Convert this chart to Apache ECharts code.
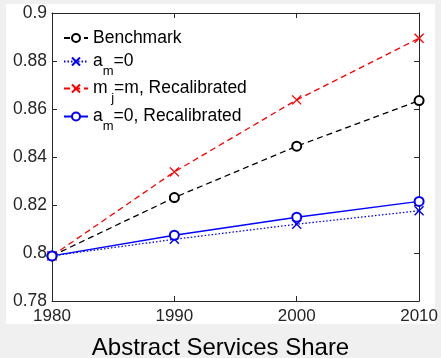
<!DOCTYPE html>
<html><head><meta charset="utf-8">
<script src="https://cdn.jsdelivr.net/npm/echarts@6/dist/echarts.min.js"></script>
<style>
html,body{margin:0;padding:0;background:#f0f0f0;}
#bg{position:absolute;left:6px;top:4px;width:429px;height:320px;background:#fff;}
#c{position:absolute;left:0;top:0;width:441px;height:358px;}
</style></head><body>
<div id="bg"></div><div id="c"></div>
<script>
// ---- data ----
const years = [1980, 1990, 2000, 2010];
const benchmark = [0.7988, 0.8231, 0.8445, 0.8635];
const amZero = [0.7988, 0.8057, 0.8120, 0.8176];
const mjRecal = [0.7988, 0.8338, 0.8638, 0.8895];
const amZeroRecal = [0.7988, 0.8074, 0.8149, 0.8215];
const seriesNames = ['Benchmark', 'a_m=0', 'm_j=m, Recalibrated', 'a_m=0, Recalibrated'];
const xTickLabels = ['1980', '1990', '2000', '2010'];
const yTickLabels = ['0.78', '0.8', '0.82', '0.84', '0.86', '0.88', '0.9'];
const xLabel = 'Abstract Services Share';

const FONT = "'Liberation Sans', Arial, Helvetica, sans-serif";
const AX = '#262626';
const X_PATH = 'path://M0,0L10,10M10,0L0,10';

const legendText = {
  'Benchmark': '{n|Benchmark}',
  'a_m=0': '{n|a}{s|m}{n|=0}',
  'm_j=m, Recalibrated': '{n|m}{s| j}{n|=m, Recalibrated}',
  'a_m=0, Recalibrated': '{n|a}{s|m}{n|=0, Recalibrated}'
};

function pair(vals) { return years.map((y, i) => [y, vals[i]]); }

const styles = [
  { color: '#000000', type: [6, 4], symbol: 'emptyCircle', data: benchmark },
  { color: '#0000ff', type: [1.5, 2], symbol: X_PATH, data: amZero },
  { color: '#ff0000', type: [6, 4], symbol: X_PATH, data: mjRecal },
  { color: '#0000ff', type: 'solid', symbol: 'emptyCircle', data: amZeroRecal }
];

const series = styles.map((s, i) => ({
  name: seriesNames[i],
  type: 'line',
  data: pair(s.data),
  symbol: s.symbol,
  symbolSize: 9,
  showSymbol: true,
  animation: false,
  lineStyle: { color: s.color, width: 1.3, type: s.type },
  itemStyle: { color: s.color, borderColor: s.color, borderWidth: 1.4 },
  emphasis: { disabled: true }
}));

const legendTops = [29, 45, 72, 100];
const legends = seriesNames.map((n, i) => ({
  data: [n],
  left: 63,
  top: legendTops[i],
  padding: 0,
  itemWidth: 24,
  itemHeight: 10,
  itemGap: 4,
  selectedMode: false,
  formatter: name => legendText[name],
  textStyle: {
    fontFamily: FONT, color: '#000',
    rich: {
      n: { fontSize: 17.5, lineHeight: 20, fontFamily: FONT, color: '#000' },
      s: { fontSize: 13, lineHeight: 12, padding: [20, 0, 0, 0], fontFamily: FONT, color: '#000' }
    }
  }
}));

const axCommon = {
  type: 'value',
  splitLine: { show: false },
  axisLine: { show: true, lineStyle: { color: AX, width: 1 } },
  axisTick: { show: true, inside: true, length: 5, lineStyle: { color: AX } }
};

const option = {
  animation: false,
  backgroundColor: 'transparent',
  grid: { left: 52, right: 20, top: 13, bottom: 57, containLabel: false },
  legend: legends,
  xAxis: [
    Object.assign({}, axCommon, {
      min: 1980, max: 2010, interval: 10, position: 'bottom',
      axisLabel: { color: AX, fontSize: 17, fontFamily: FONT, margin: 7,
        formatter: v => xTickLabels[xTickLabels.indexOf(String(v))] || String(v) }
    }),
    Object.assign({}, axCommon, {
      min: 1980, max: 2010, interval: 10, position: 'top',
      axisLabel: { show: false }
    })
  ],
  yAxis: [
    Object.assign({}, axCommon, {
      min: 0.78, max: 0.9, interval: 0.02, position: 'left',
      axisLabel: { color: AX, fontSize: 17.5, fontFamily: FONT, margin: 5,
        formatter: v => { const s = String(Math.round(v * 100) / 100); return yTickLabels.includes(s) ? s : s; } }
    }),
    Object.assign({}, axCommon, {
      min: 0.78, max: 0.9, interval: 0.02, position: 'right',
      axisLabel: { show: false }
    })
  ],
  graphic: [{
    type: 'text', left: 'center', top: 336,
    style: { text: xLabel, fontSize: 24, fontFamily: FONT, fill: '#000' }
  }],
  series: series
};

const chart = echarts.init(document.getElementById('c'), null, { renderer: 'canvas' });
chart.setOption(option);
</script>
</body></html>
